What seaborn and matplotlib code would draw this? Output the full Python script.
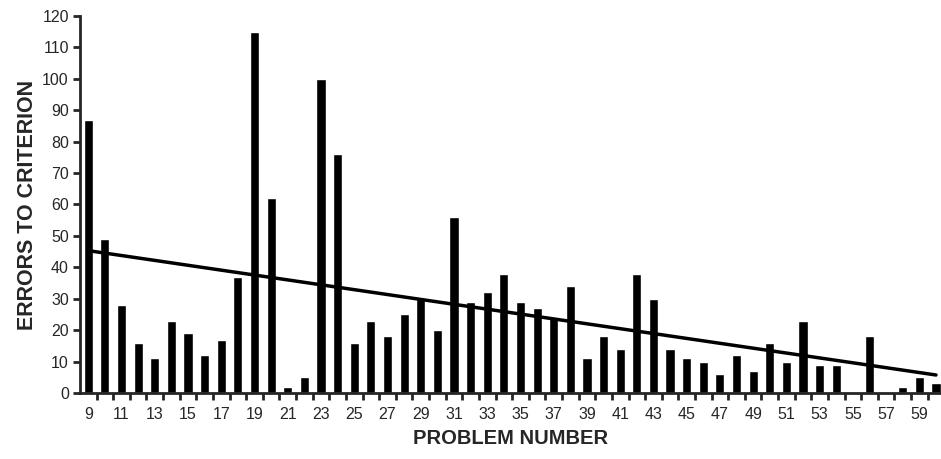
# Errors to criterion by problem number, with linear trend
import matplotlib.pyplot as plt
import numpy as np
import pandas as pd
import seaborn as sns

problems = list(range(9, 61))
errors = [87, 49, 28, 16, 11, 23, 19, 12, 17, 37,
          115, 62, 2, 5, 100, 76, 16, 23, 18, 25,
          30, 20, 56, 29, 32, 38, 29, 27, 24, 34,
          11, 18, 14, 38, 30, 14, 11, 10, 6, 12,
          7, 16, 10, 23, 9, 9, 0, 18, 0, 2,
          5, 3]
y_ticks = list(range(0, 121, 10))

df = pd.DataFrame({"problem": problems, "errors": errors})

sns.set_style("ticks")
plt.rcParams["font.family"] = ["Liberation Sans", "DejaVu Sans"]

fig = plt.figure(figsize=(9.41, 4.59), dpi=100)
ax = fig.add_axes([0.085, 0.144, 0.915, 0.821])

sns.barplot(data=df, x="problem", y="errors", order=problems,
            color="black", width=0.55, saturation=1, ax=ax)

# least squares trend line over the category positions
pos = np.arange(len(problems))
slope, intercept = np.polyfit(pos, errors, 1)
ax.plot(pos, slope * pos + intercept, color="black", lw=2.5)

ax.set_xlim(-0.5, len(problems) - 0.7)
ax.set_ylim(0, 120)
ax.set_yticks(y_ticks)
ax.set_xticks(pos)
ax.set_xticklabels([str(p) if p % 2 == 1 else "" for p in problems])
ax.set_xticks(pos[:-1] + 0.5, minor=True)
ax.tick_params(axis="x", which="major", length=0, labelsize=11.5, pad=10)
ax.tick_params(axis="x", which="minor", length=5, width=2, direction="out")
ax.tick_params(axis="y", length=5, width=2, labelsize=11.5, pad=3)

for side in ["left", "bottom"]:
    ax.spines[side].set_linewidth(2)
sns.despine(ax=ax)

ax.set_xlabel("PROBLEM NUMBER", fontsize=14.5, fontweight="bold", labelpad=5)
ax.set_ylabel("ERRORS TO CRITERION", fontsize=15.5, fontweight="bold", labelpad=3)

plt.savefig("out.png", dpi=100)
